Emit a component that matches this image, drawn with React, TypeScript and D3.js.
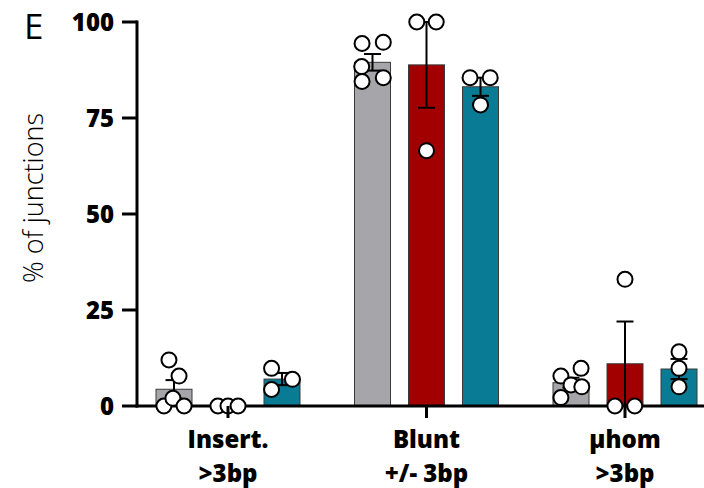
import * as d3 from "d3";

const W = 704;
const H = 488;
const FONT = '"Open Sans", "Liberation Sans", sans-serif';

const GROUP_KEYS = ["insert", "blunt", "uhom"];
const GROUP_LINE1 = ["Insert.", "Blunt", "µhom"];
const GROUP_LINE2 = [">3bp", "+/- 3bp", ">3bp"];
const SERIES = ["gray", "red", "teal"];
const COLORS = { gray: "#a6a5a9", red: "#a20000", teal: "#0a7b94" };
const Y_TICKS = [0, 25, 50, 75, 100];

// individual points per group (Insert., Blunt, µhom)
const GRAY_VALUES = [
  [0, 2, 0, 7.8, 12],
  [94.4, 94.7, 88.4, 84.5, 85.5],
  [7.8, 9.8, 5.5, 5.0, 2.2],
];
const RED_VALUES = [
  [0, 0, 0],
  [100, 100, 66.5],
  [33, 0, 0],
];
const TEAL_VALUES = [
  [9.8, 6.95, 4.3],
  [85.5, 85.5, 78.4],
  [14.1, 9.8, 5.0],
];

// horizontal scatter offset of each dot, as a fraction of the bar width
const GRAY_JITTER = [
  [-0.28, -0.03, 0.28, 0.14, -0.14],
  [-0.29, 0.3, -0.3, -0.29, 0.3],
  [-0.28, 0.28, 0, 0.3, -0.28],
];
const RED_JITTER = [
  [-0.28, 0, 0.28],
  [-0.27, 0.27, 0],
  [0, -0.28, 0.27],
];
const TEAL_JITTER = [
  [-0.29, 0.29, -0.29],
  [-0.29, 0.27, 0],
  [0, 0, 0],
];

const VALUES = { gray: GRAY_VALUES, red: RED_VALUES, teal: TEAL_VALUES };
const JITTER = { gray: GRAY_JITTER, red: RED_JITTER, teal: TEAL_JITTER };

const AXIS_X = 137;
const Y_BOTTOM = 406;
const Y_TOP = 22;

export default function App() {
  const y = d3.scaleLinear().domain([0, 100]).range([Y_BOTTOM, Y_TOP]);
  const x0 = d3.scalePoint<string>().domain(GROUP_KEYS).range([228, 625]);
  const x1 = d3
    .scaleBand<string>()
    .domain(SERIES)
    .range([-81, 81])
    .paddingInner(1 / 3)
    .paddingOuter(1 / 6);
  const bw = x1.bandwidth();

  const bars = GROUP_KEYS.flatMap((g, gi) =>
    SERIES.map((s) => {
      const vals = VALUES[s][gi];
      const mean = d3.mean(vals) ?? 0;
      const sem = (d3.deviation(vals) ?? 0) / Math.sqrt(vals.length);
      const left = (x0(g) ?? 0) + (x1(s) ?? 0);
      return { g, gi, s, vals, mean, sem, left, cx: left + bw / 2 };
    })
  );

  const capW = 17;

  return (
    <div style={{ position: "fixed", left: 0, top: 0 }}>
      <svg width={W} height={H} style={{ display: "block", background: "#fff" }}>
        <text x={24} y={39} fontFamily={FONT} fontSize={35} fill="#000">
          E
        </text>
        <text
          transform={`translate(43,${(Y_TOP + Y_BOTTOM) / 2 - 16}) rotate(-90)`}
          textAnchor="middle"
          fontFamily={FONT}
          fontWeight={300}
          fontSize={27}
          fill="#000"
        >
          % of junctions
        </text>

        {bars.map((b) => (
          <rect
            key={`bar-${b.g}-${b.s}`}
            x={b.left}
            y={y(b.mean)}
            width={bw}
            height={Y_BOTTOM - y(b.mean)}
            fill={COLORS[b.s]}
            stroke="#3a3a3a"
            strokeWidth={1}
          />
        ))}

        {bars.map((b) => (
          <g key={`err-${b.g}-${b.s}`} stroke="#000" strokeWidth={2}>
            <line x1={b.cx} x2={b.cx} y1={y(b.mean + b.sem)} y2={y(b.mean - b.sem)} />
            <line x1={b.cx - capW / 2} x2={b.cx + capW / 2} y1={y(b.mean + b.sem)} y2={y(b.mean + b.sem)} />
            <line x1={b.cx - capW / 2} x2={b.cx + capW / 2} y1={y(b.mean - b.sem)} y2={y(b.mean - b.sem)} />
          </g>
        ))}

        {/* axes */}
        <line x1={AXIS_X} x2={AXIS_X} y1={Y_TOP - 1.5} y2={Y_BOTTOM + 1.5} stroke="#000" strokeWidth={3} />
        <line x1={AXIS_X - 1.5} x2={W} y1={Y_BOTTOM} y2={Y_BOTTOM} stroke="#000" strokeWidth={3} />
        {Y_TICKS.map((t) => (
          <g key={`yt-${t}`}>
            <line x1={AXIS_X - 15} x2={AXIS_X} y1={y(t)} y2={y(t)} stroke="#000" strokeWidth={3} />
            <text
              x={AXIS_X - 23}
              y={y(t)}
              dy="0.36em"
              textAnchor="end"
              fontFamily={FONT}
              fontWeight={800}
              fontSize={24}
              fill="#000"
            >
              {t}
            </text>
          </g>
        ))}

        {bars.flatMap((b) =>
          b.vals.map((v, i) => (
            <circle
              key={`pt-${b.g}-${b.s}-${i}`}
              cx={b.cx + JITTER[b.s][b.gi][i] * bw}
              cy={y(v)}
              r={7.5}
              fill="#fff"
              stroke="#000"
              strokeWidth={2}
            />
          ))
        )}

        {GROUP_KEYS.map((g, gi) => (
          <g key={`xt-${g}`}>
            <line x1={x0(g)} x2={x0(g)} y1={Y_BOTTOM} y2={Y_BOTTOM + 12} stroke="#000" strokeWidth={3} />
            <text
              x={x0(g)}
              y={448}
              textAnchor="middle"
              fontFamily={FONT}
              fontWeight={800}
              fontSize={24}
              fill="#000"
            >
              {GROUP_LINE1[gi]}
            </text>
            <text
              x={x0(g)}
              y={482}
              textAnchor="middle"
              fontFamily={FONT}
              fontWeight={800}
              fontSize={24}
              fill="#000"
            >
              {GROUP_LINE2[gi]}
            </text>
          </g>
        ))}
      </svg>
    </div>
  );
}
